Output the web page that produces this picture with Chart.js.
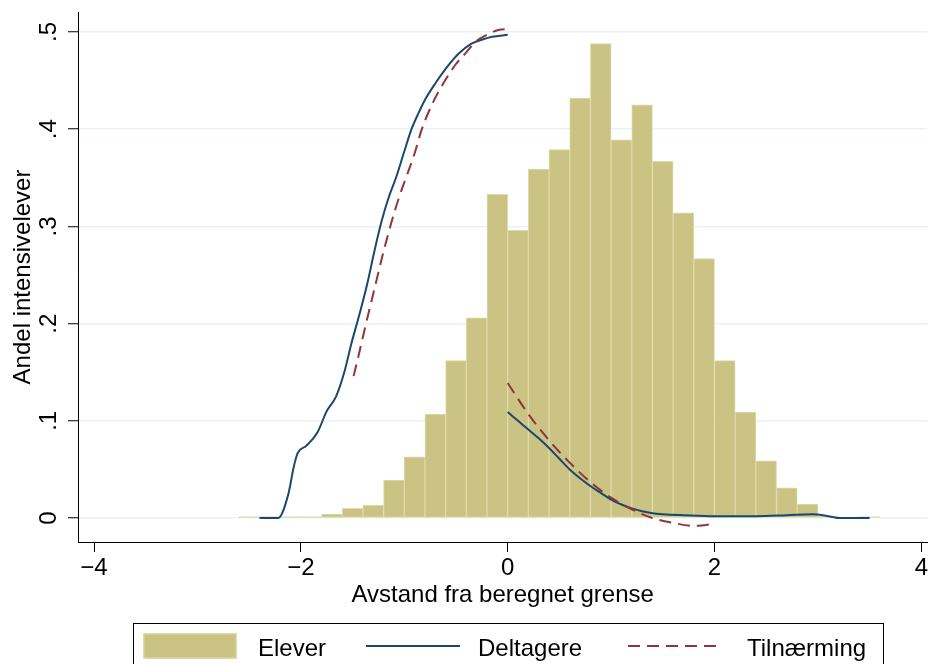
<!DOCTYPE html>
<html>
<head>
<meta charset="utf-8">
<script src="https://cdn.jsdelivr.net/npm/chart.js@4.4.1/dist/chart.umd.min.js"></script>
<style>
  html, body { margin: 0; padding: 0; background: #ffffff; }
  canvas { display: block; }
</style>
</head>
<body>
<canvas id="c" width="930" height="664"></canvas>
<script>
// ---- Data ----
const binCenters = [-2.5, -2.3, -2.1, -1.9, -1.7, -1.5, -1.3, -1.1, -0.9, -0.7, -0.5, -0.3, -0.1,
  0.1, 0.3, 0.5, 0.7, 0.9, 1.1, 1.3, 1.5, 1.7, 1.9, 2.1, 2.3, 2.5, 2.7, 2.9, 3.1, 3.3, 3.5];
const eleverShare = [0.0015, 0.0015, 0.0015, 0.0015, 0.004, 0.010, 0.013, 0.039, 0.063, 0.107, 0.162, 0.206, 0.333,
  0.296, 0.359, 0.379, 0.432, 0.488, 0.389, 0.425, 0.367, 0.314, 0.267, 0.162, 0.109, 0.059, 0.031, 0.0145, 0.002, 0.001, 0.0015];

const deltagereLeftX = [-2.40, -2.22, -2.12, -2.07, -2.03, -1.95, -1.84, -1.75, -1.66, -1.58, -1.51, -1.44, -1.36, -1.29,
  -1.22, -1.15, -1.08, -1.00, -0.93, -0.86, -0.79, -0.70, -0.57, -0.47, -0.35, -0.25, -0.15, 0.0];
const deltagereLeftY = [0.0, 0.0, 0.025, 0.052, 0.067, 0.074, 0.088, 0.110, 0.125, 0.150, 0.180, 0.207, 0.240, 0.274,
  0.305, 0.330, 0.350, 0.377, 0.400, 0.417, 0.432, 0.447, 0.466, 0.478, 0.488, 0.492, 0.495, 0.497];
const deltagereRightX = [0.0, 0.1, 0.2, 0.3, 0.4, 0.5, 0.6, 0.7, 0.8, 0.9, 1.0, 1.1, 1.2, 1.3, 1.4, 1.5, 1.7, 2.0, 2.4, 2.7, 2.95, 3.05, 3.15, 3.2, 3.5];
const deltagereRightY = [0.109, 0.100, 0.091, 0.082, 0.072, 0.061, 0.050, 0.041, 0.033, 0.026, 0.019, 0.014, 0.010, 0.007, 0.005, 0.004, 0.003, 0.002, 0.002, 0.003, 0.004, 0.003, 0.001, 0.0, 0.0];

const tilnLeftX = [-1.49, -1.44, -1.37, -1.29, -1.21, -1.13, -1.05, -0.99, -0.90, -0.83, -0.72, -0.60, -0.50, -0.40, -0.31, -0.20, -0.09, 0.0];
const tilnLeftY = [0.146, 0.168, 0.200, 0.235, 0.270, 0.302, 0.330, 0.348, 0.375, 0.400, 0.428, 0.451, 0.467, 0.479, 0.490, 0.497, 0.502, 0.503];
const tilnRightX = [0.0, 0.2, 0.4, 0.6, 0.8, 1.0, 1.2, 1.4, 1.6, 1.8, 2.0];
const tilnRightY = [0.139, 0.107, 0.080, 0.057, 0.037, 0.021, 0.009, 0.0, -0.005, -0.008, -0.006];

const xTickValues = [-4, -2, 0, 2, 4];
const xTickLabels = ['\u22124', '\u22122', '0', '2', '4'];
const yTickValues = [0, 0.1, 0.2, 0.3, 0.4, 0.5];
const yTickLabels = ['0', '.1', '.2', '.3', '.4', '.5'];

const seriesNames = ['Elever', 'Deltagere', 'Tilnærming'];
const xTitle = 'Avstand fra beregnet grense';
const yTitle = 'Andel intensivelever';

// ---- Styles ----
const FONT = '"Liberation Sans", Arial, sans-serif';
const BAR_FILL = '#cac383';
const BAR_EDGE = '#dedaa9';
const NAVY = '#1a476f';
const MAROON = '#90353b';
const GRID = '#e9f1f3';
const DASH = [12, 7];

const pts = (xs, ys) => xs.map((x, i) => ({ x: x, y: ys[i] }));

const yLabelPlugin = {
  id: 'yLabels',
  afterDraw(chart) {
    const ctx = chart.ctx;
    const ys = chart.scales.y;
    ctx.save();
    ctx.fillStyle = '#000';
    ctx.font = '24px ' + FONT;
    ctx.textAlign = 'center';
    ctx.textBaseline = 'alphabetic';
    yTickValues.forEach((v, i) => {
      const py = ys.getPixelForValue(v);
      ctx.save();
      ctx.translate(56, py);
      ctx.rotate(-Math.PI / 2);
      ctx.fillText(yTickLabels[i], 0, 0);
      ctx.restore();
    });
    ctx.restore();
  }
};

const legendPlugin = {
  id: 'stataLegend',
  afterDraw(chart) {
    const ctx = chart.ctx;
    ctx.save();
    ctx.strokeStyle = '#000';
    ctx.lineWidth = 1;
    ctx.strokeRect(133.5, 623.5, 750, 60);
    ctx.fillStyle = BAR_FILL;
    ctx.fillRect(143, 633, 94, 26);
    ctx.strokeStyle = BAR_EDGE;
    ctx.lineWidth = 1.5;
    ctx.strokeRect(143.75, 633.75, 92.5, 24.5);
    ctx.strokeStyle = NAVY;
    ctx.lineWidth = 2;
    ctx.setLineDash([]);
    ctx.beginPath();
    ctx.moveTo(366, 646); ctx.lineTo(460, 646);
    ctx.stroke();
    ctx.strokeStyle = MAROON;
    ctx.setLineDash(DASH);
    ctx.beginPath();
    ctx.moveTo(628, 646); ctx.lineTo(723, 646);
    ctx.stroke();
    ctx.setLineDash([]);
    ctx.fillStyle = '#000';
    ctx.font = '24px ' + FONT;
    ctx.textAlign = 'left';
    ctx.textBaseline = 'alphabetic';
    ctx.fillText(seriesNames[0], 258, 656);
    ctx.fillText(seriesNames[1], 478, 656);
    ctx.fillText(seriesNames[2], 747, 656);
    ctx.restore();
  }
};

const lineBase = {
  type: 'line',
  pointRadius: 0,
  pointHoverRadius: 0,
  borderWidth: 2,
  fill: false,
  cubicInterpolationMode: 'monotone',
  order: 1
};

new Chart(document.getElementById('c'), {
  type: 'bar',
  data: {
    datasets: [
      Object.assign({}, lineBase, { label: seriesNames[2], data: pts(tilnLeftX, tilnLeftY), borderColor: MAROON, borderDash: DASH }),
      Object.assign({}, lineBase, { label: seriesNames[2], data: pts(tilnRightX, tilnRightY), borderColor: MAROON, borderDash: DASH }),
      Object.assign({}, lineBase, { label: seriesNames[1], data: pts(deltagereLeftX, deltagereLeftY), borderColor: NAVY }),
      Object.assign({}, lineBase, { label: seriesNames[1], data: pts(deltagereRightX, deltagereRightY), borderColor: NAVY }),
      {
        type: 'bar',
        label: seriesNames[0],
        data: pts(binCenters, eleverShare),
        backgroundColor: BAR_FILL,
        borderColor: BAR_EDGE,
        borderWidth: 1,
        borderSkipped: false,
        barPercentage: 1.0,
        categoryPercentage: 1.0,
        order: 2
      }
    ]
  },
  options: {
    responsive: false,
    animation: false,
    events: [],
    layout: { padding: { left: 0, right: 2, top: 12, bottom: 0 } },
    plugins: {
      legend: { display: false },
      tooltip: { enabled: false },
      title: { display: false }
    },
    scales: {
      x: {
        type: 'linear',
        min: -4.155,
        max: 4.058,
        offset: false,
        afterBuildTicks: (s) => { s.ticks = xTickValues.map(v => ({ value: v })); },
        afterFit: (s) => { s.height = 122; },
        ticks: {
          color: '#000',
          font: { family: FONT, size: 24 },
          padding: 2,
          maxRotation: 0,
          minRotation: 0,
          autoSkip: false,
          callback: (v) => { const i = xTickValues.indexOf(v); return i >= 0 ? xTickLabels[i] : ''; }
        },
        grid: {
          offset: false,
          drawOnChartArea: false,
          drawTicks: true,
          tickLength: 10,
          tickColor: '#000',
          tickWidth: 1
        },
        border: { display: true, color: '#000', width: 1 },
        title: {
          display: true,
          text: xTitle,
          color: '#000',
          font: { family: FONT, size: 24 },
          padding: { top: 0, bottom: 54 }
        }
      },
      y: {
        type: 'linear',
        min: -0.0246,
        max: 0.5205,
        afterBuildTicks: (s) => { s.ticks = yTickValues.map(v => ({ value: v })); },
        afterFit: (s) => { s.width = 78; },
        ticks: { display: false },
        grid: {
          offset: false,
          drawOnChartArea: true,
          drawTicks: true,
          tickLength: 10,
          color: GRID,
          lineWidth: 1.5,
          tickColor: '#000',
          tickWidth: 1
        },
        border: { display: true, color: '#000', width: 1 },
        title: {
          display: true,
          text: yTitle,
          color: '#000',
          font: { family: FONT, size: 24 },
          padding: { top: 9, bottom: 0 }
        }
      }
    }
  },
  plugins: [yLabelPlugin, legendPlugin]
});
</script>
</body>
</html>
